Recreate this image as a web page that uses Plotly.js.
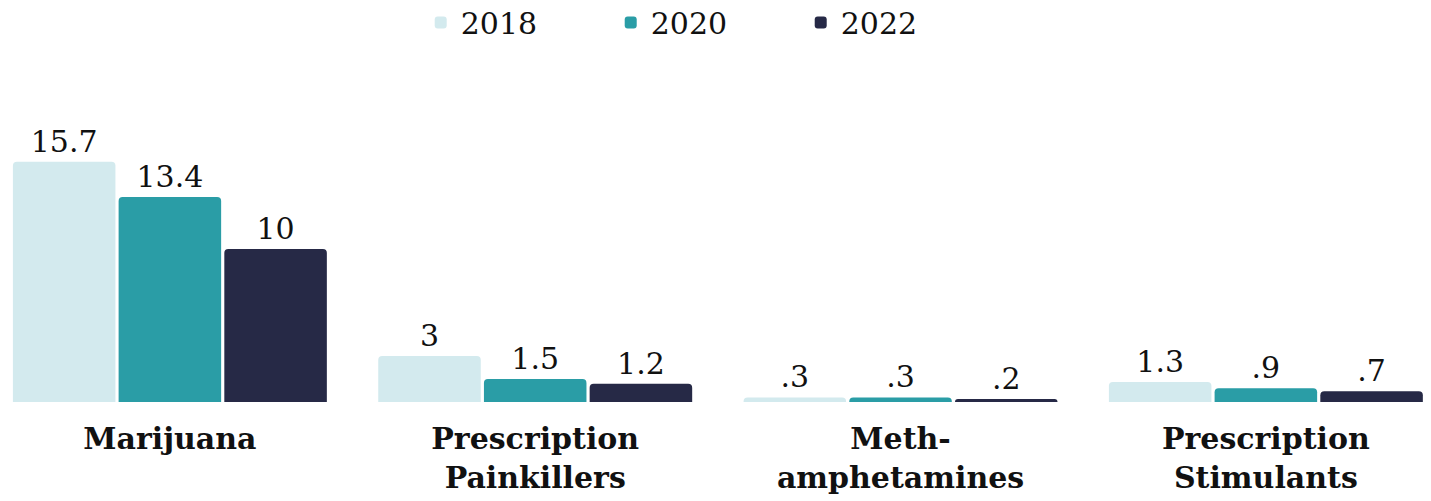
<!DOCTYPE html>
<html>
<head>
<meta charset="utf-8">
<script src="https://cdn.plot.ly/plotly-3.0.1.min.js"></script>
<style>
  html, body { margin: 0; padding: 0; background: #ffffff; }
  #chart { width: 1431px; height: 501px; }
</style>
</head>
<body>
<div id="chart"></div>
<script>
const categories = ["Marijuana", "Prescription<br>Painkillers", "Meth-<br>amphetamines", "Prescription<br>Stimulants"];
const seriesNames = ["2018", "2020", "2022"];
const values2018 = [15.7, 3, 0.3, 1.3];
const values2020 = [13.4, 1.5, 0.3, 0.9];
const values2022 = [10, 1.2, 0.2, 0.7];
const seriesColors = ["#d3eaee", "#2a9da6", "#262946"];

function fmt(v) {
  return String(v).replace(/^0\./, ".");
}

const allValues = [values2018, values2020, values2022];
const traces = allValues.map((vals, i) => ({
  type: "bar",
  name: seriesNames[i],
  x: categories,
  y: vals,
  text: vals.map(fmt),
  textposition: "outside",
  cliponaxis: false,
  textfont: { family: "DejaVu Serif", size: 30, color: "#111111" },
  marker: { color: seriesColors[i], line: { width: 0 } },
  hoverinfo: "skip"
}));

const layout = {
  width: 1431,
  height: 501,
  paper_bgcolor: "#ffffff",
  plot_bgcolor: "#ffffff",
  margin: { l: 0, r: 0, t: 60, b: 99, autoexpand: false },
  barmode: "group",
  bargap: 0.132,
  bargroupgap: 0.03,
  barcornerradius: 4,
  showlegend: true,
  legend: {
    orientation: "h",
    xref: "container",
    x: 0.294,
    xanchor: "left",
    yref: "container",
    y: 0.955,
    yanchor: "middle",
    font: { family: "DejaVu Serif", size: 30, color: "#111111" },
    itemwidth: 30,
    entrywidth: 145,
    traceorder: "normal"
  },
  xaxis: {
    type: "category",
    range: [-0.465, 3.452],
    showgrid: false,
    zeroline: false,
    showline: false,
    ticks: "outside",
    ticklen: 10,
    tickcolor: "rgba(0,0,0,0)",
    tickfont: { family: "DejaVu Serif", size: 30, color: "#111111", weight: "bold" }
  },
  yaxis: {
    range: [0, 22.35],
    visible: false,
    showgrid: false,
    zeroline: false
  },
  font: { family: "DejaVu Serif", color: "#111111" }
};

Plotly.newPlot("chart", traces, layout, { displayModeBar: false, staticPlot: true });
</script>
</body>
</html>
